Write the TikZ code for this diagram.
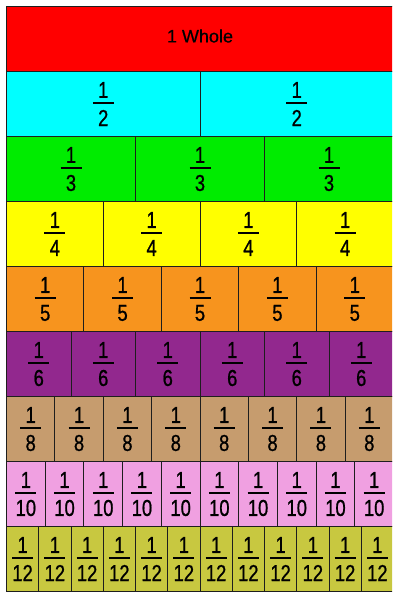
\documentclass[tikz,border=0pt]{standalone}
\usepackage{fontspec}
\setmainfont{Liberation Sans}
\newfontfamily\digfont[FakeStretch=0.8,FakeBold=0.8]{Liberation Sans}
\newfontfamily\wholefont[FakeBold=0.6]{Liberation Sans}
\definecolor{wred}{RGB}{255,0,0}
\definecolor{wcyan}{RGB}{0,255,255}
\definecolor{wgreen}{RGB}{0,236,0}
\definecolor{wyellow}{RGB}{255,255,0}
\definecolor{worange}{RGB}{247,148,30}
\definecolor{wpurple}{RGB}{146,40,142}
\definecolor{wtan}{RGB}{198,156,110}
\definecolor{wpink}{RGB}{240,160,225}
\definecolor{wolive}{RGB}{200,200,64}
\definecolor{wline}{RGB}{30,30,30}
\begin{document}
\begin{tikzpicture}[x=1pt,y=1pt,
  cell/.style={draw=wline, line width=1pt, anchor=north west, minimum height=65, inner sep=0pt, outer sep=0pt},
  num/.style={font=\digfont\fontsize{23}{23}\selectfont, inner sep=0pt},
  fbar/.style={line width=2pt, black}]
\useasboundingbox (0,0) rectangle (392,592);
\clip (0,0) rectangle (392,592);
\fill[white] (0,0) rectangle (392,592);
\node[cell, fill=wred, minimum width=387] (whole) at (6.5,585.5) {};
\node[font=\wholefont\fontsize{18}{18}\selectfont, inner sep=0pt] (wholetext) at ([yshift=3]whole.center) {1 Whole};
\foreach \d/\col [count=\r] in {2/wcyan,3/wgreen,4/wyellow,5/worange,6/wpurple,8/wtan,10/wpink,12/wolive} {
  \pgfmathsetmacro\w{387/\d}
  \foreach \k in {1,...,\d} {
    \node[cell, fill=\col, minimum width=\w] (c\d-\k) at ({6.5+(\k-1)*\w}, {585.5-65*\r}) {};
    \node[num] (n\d-\k) at ([yshift=14]c\d-\k.center) {1};
    \node[num] (d\d-\k) at ([yshift=-14]c\d-\k.center) {\d};
    \coordinate (bl\d-\k) at ([xshift=-10.5,yshift=1]c\d-\k.center);
    \coordinate (br\d-\k) at ([xshift=10.5,yshift=1]c\d-\k.center);
    \draw[fbar] (bl\d-\k) -- (br\d-\k);
  }
}
\end{tikzpicture}
\end{document}
